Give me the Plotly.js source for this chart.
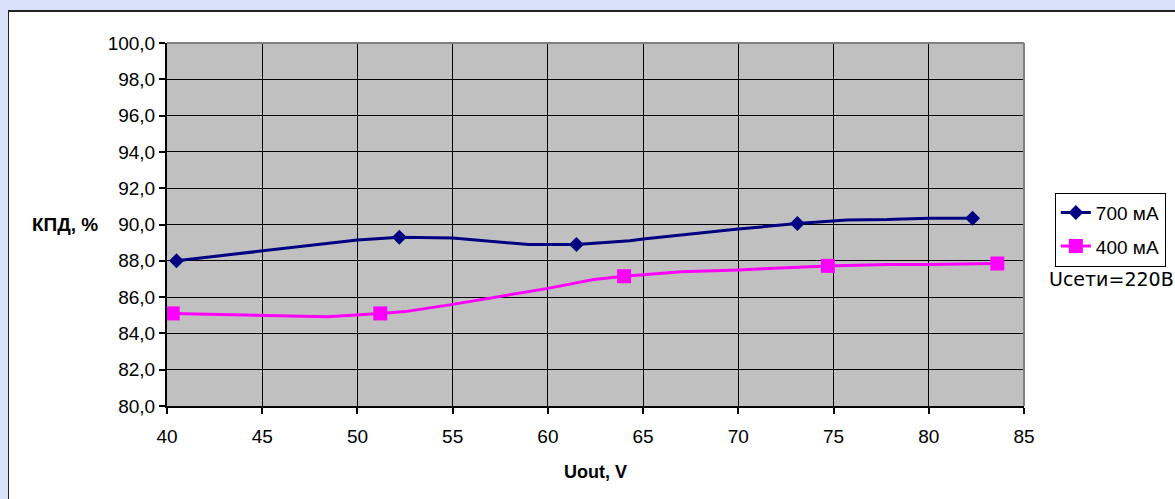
<!DOCTYPE html>
<html>
<head>
<meta charset="utf-8">
<script src="https://cdn.plot.ly/plotly-3.0.1.min.js"></script>
<style>
html,body{margin:0;padding:0;width:1175px;height:499px;overflow:hidden;background:#D9E1FA;}
#panel{position:absolute;left:8px;top:10px;width:1300px;height:600px;background:#fff;border-left:1px solid #222;border-top:2px solid #222;}
#chart{position:absolute;left:0;top:0;}
</style>
</head>
<body>
<div id="panel"><div id="chart"></div></div>
<script>
// 700 mA series: marked points
const s700X = [40.5, 52.2, 61.5, 73.1, 82.3];
const s700Y = [88.0, 89.3, 88.9, 90.05, 90.35];
// 700 mA series: full line path
const s700LineX = [40.5, 45, 50, 52.2, 55, 59, 61.5, 64.3, 65, 70, 73.1, 75.7, 77.8, 80, 82.3];
const s700LineY = [88.0, 88.55, 89.15, 89.3, 89.25, 88.9, 88.9, 89.1, 89.2, 89.75, 90.05, 90.25, 90.27, 90.35, 90.35];
// 400 mA series: marked points
const s400X = [40.3, 51.2, 64.0, 74.7, 83.6];
const s400Y = [85.1, 85.1, 87.15, 87.72, 87.85];
// 400 mA series: full line path
const s400LineX = [40.3, 45, 48.4, 51.2, 52.5, 55, 60, 62.4, 64.0, 67, 70, 74.7, 77.8, 80, 83.6];
const s400LineY = [85.1, 85.0, 84.92, 85.1, 85.2, 85.6, 86.48, 86.97, 87.15, 87.4, 87.5, 87.72, 87.8, 87.8, 87.85];

const seriesNames = ["700 мА", "400 мА"];
const xTitle = "Uout, V";
const yTitle = "КПД, %";
const note = "Uсети=220В";

const navy = "#000080", magenta = "#FF00FF";
const F = "Liberation Sans, Arial, sans-serif";

const traces = [
  {x: s700LineX, y: s700LineY, mode: "lines", line: {color: navy, width: 3}, showlegend: false, hoverinfo: "skip"},
  {x: s400LineX, y: s400LineY, mode: "lines", line: {color: magenta, width: 3}, showlegend: false, hoverinfo: "skip"},
  {x: s700X, y: s700Y, mode: "markers", marker: {symbol: "diamond", size: 11.5, color: navy}, showlegend: false},
  {x: s400X, y: s400Y, mode: "markers", marker: {symbol: "square", size: 14, color: magenta}, showlegend: false},
  {x: [null], y: [null], name: seriesNames[0], mode: "lines+markers", legendgroup: "a",
   line: {color: navy, width: 3}, marker: {symbol: "diamond", size: 11.5, color: navy}},
  {x: [null], y: [null], name: seriesNames[1], mode: "lines+markers", legendgroup: "b",
   line: {color: magenta, width: 3}, marker: {symbol: "square", size: 14, color: magenta}}
];

const layout = {
  width: 1250, height: 488,
  margin: {l: 158, t: 31, r: 235, b: 94},
  paper_bgcolor: "rgba(0,0,0,0)",
  plot_bgcolor: "#C0C0C0",
  separators: ", ",
  font: {family: F, size: 19, color: "#000"},
  showlegend: true,
  legend: {x: 1.036, y: 0.588, xanchor: "left", yanchor: "top", bgcolor: "#fff",
           bordercolor: "#000", borderwidth: 1, font: {family: F, size: 19, color: "#000"},
           traceorder: "grouped", tracegroupgap: 6},
  xaxis: {range: [40, 85], dtick: 5, tick0: 40, showgrid: true, gridcolor: "#000", gridwidth: 1,
          showline: true, linecolor: "#000", linewidth: 2, ticks: "outside", ticklen: 6,
          tickwidth: 2, tickcolor: "#000", zeroline: false, ticklabelstandoff: 6,
          tickfont: {family: F, size: 19},
          title: {text: "<b>" + xTitle + "</b>", font: {family: F, size: 18}, standoff: 20}},
  yaxis: {range: [80, 100], dtick: 2, tick0: 80, tickformat: ".1f", showgrid: true, gridcolor: "#000",
          gridwidth: 1, showline: true, linecolor: "#000", linewidth: 2, ticks: "outside",
          ticklen: 6, tickwidth: 2, tickcolor: "#000", zeroline: false,
          tickfont: {family: F, size: 19}},
  shapes: [
    {type: "line", xref: "paper", yref: "paper", x0: 0, x1: 1, y0: 1, y1: 1, line: {color: "#808080", width: 2}},
    {type: "line", xref: "paper", yref: "paper", x0: 1, x1: 1, y0: 0, y1: 1, line: {color: "#808080", width: 2}}
  ],
  annotations: [
    {text: "<b>" + yTitle + "</b>", xref: "paper", yref: "paper", x: -0.160, y: 0.5,
     xanchor: "left", yanchor: "middle", showarrow: false, font: {family: F, size: 19}},
    {text: note, xref: "paper", yref: "paper", x: 1.0265, y: 0.349, xanchor: "left", yanchor: "middle",
     showarrow: false, font: {family: "DejaVu Sans, Verdana, sans-serif", size: 19}}
  ]
};

Plotly.newPlot("chart", traces, layout, {displayModeBar: false, staticPlot: true});
</script>
</body>
</html>
